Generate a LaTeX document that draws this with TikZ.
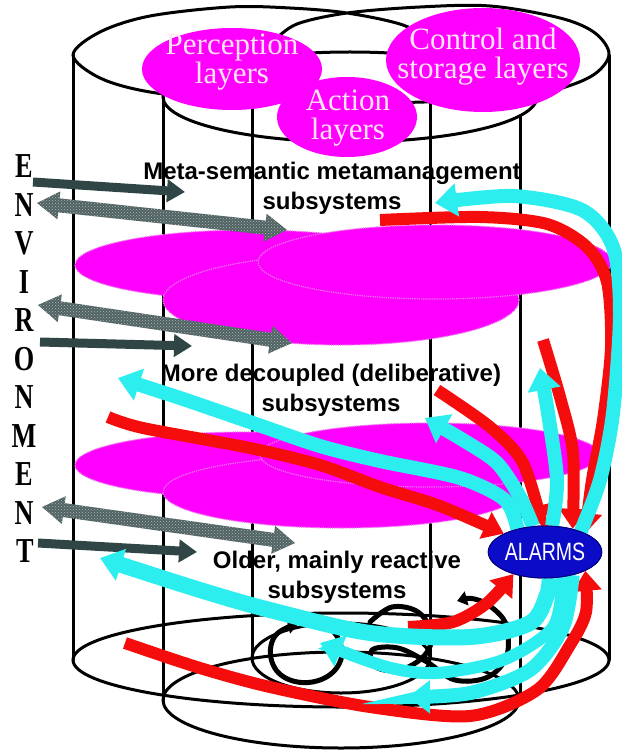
\documentclass[tikz,border=0pt]{standalone}
\usepackage{fontspec}
\setmainfont{Liberation Serif}
\setsansfont{Liberation Sans}
\usetikzlibrary{shapes.geometric,arrows.meta,calc,patterns}
\definecolor{mag}{RGB}{255,0,255}
\definecolor{magedge}{RGB}{235,120,235}
\definecolor{redc}{RGB}{245,12,12}
\definecolor{cyanc}{RGB}{45,238,238}
\definecolor{darkgr}{RGB}{48,70,70}
\definecolor{hatchgr}{RGB}{80,98,98}
\definecolor{alarmblue}{RGB}{12,12,200}
\definecolor{labtext}{RGB}{255,228,245}
\tikzset{
  cylline/.style={line width=3pt, draw=black, line cap=round},
  layer/.style={fill=mag, draw=magedge, line width=1.2pt, densely dotted},
  labell/.style={ellipse, fill=mag, inner sep=0pt},
  labtxt/.style={text=labtext, font=\fontsize{31}{29}\selectfont, align=center, inner sep=0pt},
  sublab/.style={font=\sffamily\bfseries\fontsize{24}{30}\selectfont, align=center, inner sep=0pt},
  envl/.style={font=\bfseries\fontsize{35}{35}\selectfont, inner sep=0pt},
  darkarr/.style={draw=darkgr, line width=9pt, -{Triangle[width=22pt,length=18pt]}},
  hatchfill/.style={fill=hatchgr, postaction={pattern=crosshatch dots, pattern color=white!55!hatchgr}},
  redarr/.style={draw=redc, line width=12pt, -{Triangle[width=28pt,length=20pt]}},
  cyanarr/.style={draw=cyanc, line width=14pt, -{Triangle[width=32pt,length=22pt]}},
  loopline/.style={draw=black, line width=5pt, line cap=round, line join=round},
  alarmnode/.style={ellipse, fill=alarmblue, draw=blue!50!black, line width=1pt, inner sep=0pt,
     minimum width=104pt, minimum height=52pt, text=white, font=\sffamily\fontsize{25}{25}\selectfont},
}
\newcommand\hatchedarrow[2]{%
  \coordinate (#1h) at ($(#1)!22pt!(#2)$);
  \coordinate (#2h) at ($(#2)!22pt!(#1)$);
  \path[hatchfill] (#1) -- ($(#1h)!14pt!-90:(#2)$) -- ($(#1h)!7pt!-90:(#2)$)
     -- ($(#2h)!7pt!90:(#1)$) -- ($(#2h)!14pt!90:(#1)$) -- (#2)
     -- ($(#2h)!14pt!-90:(#1)$) -- ($(#2h)!7pt!-90:(#1)$)
     -- ($(#1h)!7pt!90:(#2)$) -- ($(#1h)!14pt!90:(#2)$) -- cycle;}
\begin{document}
\begin{tikzpicture}[x=1pt,y=-1pt]
\fill[white] (0,0) rectangle (621,751);
\useasboundingbox (0,0) rectangle (621,751);

% ---- cylinders ----
\draw[cylline] (341,660) ellipse [x radius=268pt, y radius=47pt];
\draw[cylline] (341,700) ellipse [x radius=178pt, y radius=48pt];
\draw[cylline] (341,658) ellipse [x radius=89pt, y radius=35pt];
\draw[cylline] (73,55) -- (73,660);
\draw[cylline] (609,55) -- (609,660);
\draw[cylline] (163,97) -- (163,700);
\draw[cylline] (520,116) -- (520,700);
\draw[cylline] (252,95) -- (252,658);
\draw[cylline] (430,103) -- (430,658);
\draw[cylline] (350,97) ellipse [x radius=187pt, y radius=45pt];
\draw[cylline] plot[smooth, tension=0.55] coordinates {(432,42) (403,25) (347,13) (290,8) (230,7) (150,16) (100,32) (73,55) (100,78) (150,92) (230,100) (341,103) (450,101) (540,93) (590,77) (609,55) (595,33) (560,18) (490,6) (420,7) (347,13) (297,24) (275,40)};

% ---- top label ellipses ----
\node[labell, minimum width=180pt, minimum height=82pt] (perc) at (232,69) {};
\node[labell, minimum width=194pt, minimum height=104pt] (ctrl) at (483,60) {};
\node[labell, minimum width=140pt, minimum height=80pt] (act) at (347,117) {};
\node[labtxt] (perct) at (232,62) {Perception\\layers};
\node[labtxt] (ctrlt) at (483,57) {Control and\\storage layers};
\node[labtxt] (actt) at (348,118) {Action\\layers};

% ---- magenta layers ----
\path[layer] (250,265) ellipse [x radius=175pt, y radius=35pt];
\path[layer] (341,300) ellipse [x radius=178pt, y radius=45pt];
\path[layer] (435,262) ellipse [x radius=177pt, y radius=37pt];
\path[layer] (245,465) ellipse [x radius=170pt, y radius=33pt];
\path[layer] (341,492) ellipse [x radius=178pt, y radius=36pt];
\path[layer] (430,455) ellipse [x radius=170pt, y radius=32pt];

% ---- layer labels ----
\node[sublab] (meta) at (332,188) {Meta-semantic metamanagement\\subsystems};
\node[sublab] (delib) at (331,390) {More decoupled (deliberative)\\subsystems};
\node[sublab] (react) at (337,577) {Older, mainly reactive\\subsystems};

% ---- ENVIRONMENT ----
\node[envl] (env1) at (24,166) {\scalebox{0.75}[1]{E}};
\node[envl] (env2) at (24,205) {\scalebox{0.75}[1]{N}};
\node[envl] (env3) at (24,243) {\scalebox{0.75}[1]{V}};
\node[envl] (env4) at (24,282) {\scalebox{0.75}[1]{I}};
\node[envl] (env5) at (24,320) {\scalebox{0.75}[1]{R}};
\node[envl] (env6) at (24,359) {\scalebox{0.75}[1]{O}};
\node[envl] (env7) at (24,397) {\scalebox{0.75}[1]{N}};
\node[envl] (env8) at (24,436) {\scalebox{0.75}[1]{M}};
\node[envl] (env9) at (24,474) {\scalebox{0.75}[1]{E}};
\node[envl] (env10) at (24,513) {\scalebox{0.75}[1]{N}};
\node[envl] (env11) at (25,551) {\scalebox{0.75}[1]{T}};

% ---- environment arrows ----
\coordinate (h1a) at (37,203); \coordinate (h1b) at (287,230);
\coordinate (h2a) at (38,305); \coordinate (h2b) at (292,343);
\coordinate (h3a) at (42,507); \coordinate (h3b) at (295,543);
\hatchedarrow{h1a}{h1b}
\hatchedarrow{h2a}{h2b}
\hatchedarrow{h3a}{h3b}
\coordinate (d1a) at (33,182); \coordinate (d1b) at (185,192);
\coordinate (d2a) at (40,342); \coordinate (d2b) at (192,346);
\coordinate (d3a) at (38,543); \coordinate (d3b) at (197,552);
\draw[darkarr] (d1a) -- (d1b);
\draw[darkarr] (d2a) -- (d2b);
\draw[darkarr] (d3a) -- (d3b);

% ---- alarms node (placed first for anchors) ----
\node[alarmnode] (alarms) at (545,552) {\scalebox{0.78}[1]{ALARMS}};

% ---- black loops ----
\draw[loopline, -{Triangle[width=14pt,length=10pt]}] plot[smooth, tension=0.7] coordinates {(320,620) (338,638) (340,662) (320,680) (290,680) (272,662) (275,636) (298,624)};
\draw[loopline] plot[smooth, tension=0.6] coordinates {(370,622) (392,607) (418,612) (432,634) (424,656) (400,670) (376,667) (372,650) (398,648) (427,662) (455,680) (488,677) (507,655) (505,622) (487,604)};
\draw[loopline, -{Triangle[width=14pt,length=10pt]}] (487,604) .. controls (477,598) and (468,598) .. (457,601);

% ---- red arrows (into ALARMS) ----
\draw[redarr] plot[smooth] coordinates {(108,417) (143,428) (250,448) (320,465) (380,487) (440,506) (alarms.156)};
\draw[redarr] plot[smooth] coordinates {(437,390) (490,427) (523,463) (alarms.96)};
\draw[redarr] plot[smooth] coordinates {(543,340) (560,397) (573,453) (alarms.40)};
\draw[redarr] plot[smooth] coordinates {(380,220) (480,217) (547,224) (587,247) (607,282) (611,347) (603,420) (592,480) (alarms.25)};
\draw[redarr] plot[smooth] coordinates {(125,643) (200,668) (270,687) (370,707) (470,716) (537,690) (570,645) (586,612) (alarms.-25)};
\draw[redarr] plot[smooth] coordinates {(408,627) (453,622) (487,603) (alarms.215)};

% ---- cyan arrows (out of ALARMS) ----
\draw[cyanarr] plot[smooth] coordinates {(alarms.30) (600,480) (613,413) (620,313) (613,247) (582,210) (513,196) (435,203)};
\draw[cyanarr] plot[smooth] coordinates {(alarms.75) (557,480) (548,413) (540,368)};
\draw[cyanarr] plot[smooth] coordinates {(alarms.115) (520,497) (497,463) (463,440) (425,418)};
\draw[cyanarr] plot[smooth] coordinates {(alarms.140) (505,500) (460,478) (380,461) (320,446) (250,422) (180,398) (118,378)};
\draw[cyanarr, line width=16pt] plot[smooth] coordinates {(alarms.-80) (547,595) (530,623) (470,637) (370,633) (270,610) (200,590) (100,558)};
\draw[cyanarr, line width=12pt] plot[smooth] coordinates {(alarms.-55) (553,627) (503,660) (437,673) (387,667) (320,643)};
\draw[cyanarr] plot[smooth] coordinates {(alarms.-40) (563,627) (530,670) (470,693) (408,697)};

% ---- alarms on top ----
\node[alarmnode] at (alarms) {\scalebox{0.78}[1]{ALARMS}};
\end{tikzpicture}
\end{document}
